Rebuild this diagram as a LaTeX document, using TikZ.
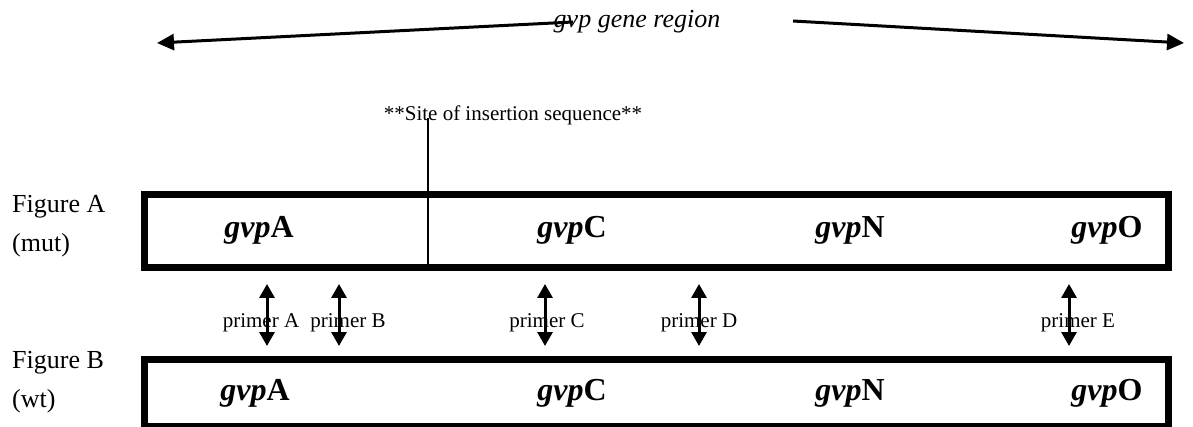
\documentclass[tikz,border=0pt]{standalone}
\usepackage{fontspec}
\setmainfont{Liberation Serif}
\usetikzlibrary{arrows.meta}
\begin{document}
\begin{tikzpicture}[x=1pt,y=-1pt,
  big/.style={font=\fontsize{26}{30}\selectfont,inner sep=0pt},
  gene/.style={font=\fontsize{32}{36}\selectfont\bfseries,inner sep=0pt,anchor=base},
  small/.style={font=\fontsize{21}{24}\selectfont,inner sep=0pt,anchor=base},
  box/.style={draw,line width=7pt},
  arr/.style={line width=3pt,-{Triangle[length=17pt,width=16pt]}},
  darr/.style={line width=3pt,{Triangle[length=14pt,width=15pt]}-{Triangle[length=14pt,width=15pt]}}]
\useasboundingbox (0,0) rectangle (1193,427);
% title and region arrows
\node[big,anchor=base] (title) at (637,28) {\itshape gvp gene region};
\coordinate (lstart) at (573,22);
\coordinate (lend) at (157,43);
\coordinate (rstart) at (793,21);
\coordinate (rend) at (1184,43);
\draw[arr] (lstart) -- (lend);
\draw[arr] (rstart) -- (rend);
% boxes
\node[box,minimum width=1024pt,minimum height=73pt,anchor=north west,inner sep=0pt] (boxA) at (140.5,191) {};
\node[box,minimum width=1024pt,minimum height=67pt,anchor=north west,inner sep=0pt] (boxB) at (140.5,355.5) {};
% insertion site
\node[small] (site) at (513,121) {**Site of insertion sequence**};
\coordinate (sitetop) at (428,118);
\coordinate (sitebot) at (428,264);
\draw[line width=1.5pt] (sitetop) -- (sitebot);
% figure labels
\node[big,anchor=base west] (figA) at (12,213) {Figure A};
\node[big,anchor=base west] (mutA) at (12,252) {(mut)};
\node[big,anchor=base west] (figB) at (12,368) {Figure B};
\node[big,anchor=base west] (wtB) at (12,407) {(wt)};
% genes A
\node[gene] (aA) at (259,238) {\textit{gvp}A};
\node[gene] (aC) at (572,238) {\textit{gvp}C};
\node[gene] (aN) at (850,238) {\textit{gvp}N};
\node[gene] (aO) at (1107,238) {\textit{gvp}O};
% genes B
\node[gene] (bA) at (255,400) {\textit{gvp}A};
\node[gene] (bC) at (572,400) {\textit{gvp}C};
\node[gene] (bN) at (850,400) {\textit{gvp}N};
\node[gene] (bO) at (1107,400) {\textit{gvp}O};
% primers
\node[small] (pA) at (261,327) {primer A};
\node[small] (pB) at (348,327) {primer B};
\node[small] (pC) at (547,327) {primer C};
\node[small] (pD) at (699,327) {primer D};
\node[small] (pE) at (1078,327) {primer E};
\foreach \n/\x in {A/267,B/339,C/545,D/699,E/1069}{
  \coordinate (t\n) at (\x,284);
  \coordinate (u\n) at (\x,346);
  \draw[darr] (t\n) -- (u\n);
}
\end{tikzpicture}
\end{document}
